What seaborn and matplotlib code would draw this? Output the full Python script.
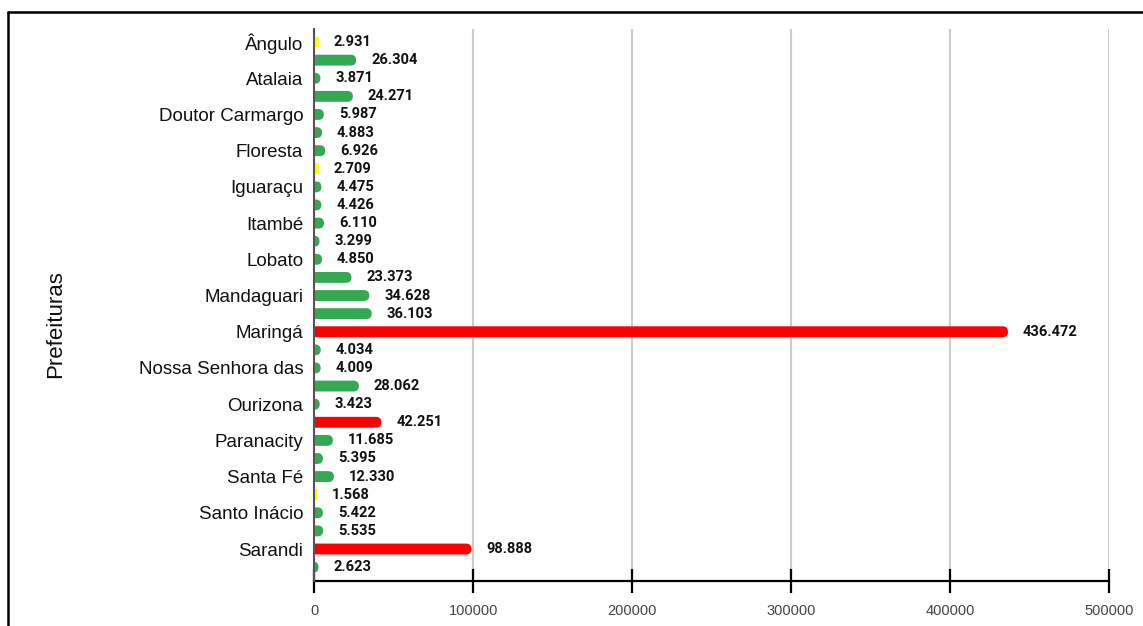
import matplotlib
matplotlib.use("Agg")
import matplotlib.pyplot as plt
import seaborn as sns
import pandas as pd
from matplotlib.patches import FancyBboxPatch
from matplotlib.lines import Line2D

# Municípios (ordem alfabética) e população
municipios = [
    "Ângulo", "Astorga", "Atalaia", "Colorado", "Doutor Carmargo", "Floraí",
    "Floresta", "Flórida", "Iguaraçu", "Itaguajé", "Itambé", "Ivatuba",
    "Lobato", "Mandaguaçu", "Mandaguari", "Marialva", "Maringá",
    "Munhoz de Melo", "Nossa Senhora das Graças", "Nova Esperança",
    "Ourizona", "Paiçandu", "Paranacity", "Presidente Castelo Branco",
    "Santa Fé", "Santa Inês", "Santo Inácio", "São Jorge do Ivaí",
    "Sarandi", "Uniflor",
]
populacao = [
    2931, 26304, 3871, 24271, 5987, 4883, 6926, 2709, 4475, 4426, 6110, 3299,
    4850, 23373, 34628, 36103, 436472, 4034, 4009, 28062, 3423, 42251, 11685,
    5395, 12330, 1568, 5422, 5535, 98888, 2623,
]
faixa = [
    "baixa", "media", "media", "media", "media", "media", "media", "baixa",
    "media", "media", "media", "media", "media", "media", "media", "media",
    "alta", "media", "media", "media", "media", "alta", "media", "media",
    "media", "baixa", "media", "media", "alta", "media",
]
# Rótulos do eixo (um a cada dois municípios)
rotulos_eixo = [
    "Ângulo", "Atalaia", "Doutor Carmargo", "Floresta", "Iguaraçu", "Itambé",
    "Lobato", "Mandaguari", "Maringá", "Nossa Senhora das", "Ourizona",
    "Paranacity", "Santa Fé", "Santo Inácio", "Sarandi",
]
ticks_x = [0, 100000, 200000, 300000, 400000, 500000]

cores = {"baixa": "#ffff00", "media": "#34a853", "alta": "#ff0000"}

df = pd.DataFrame({"municipio": municipios, "populacao": populacao, "faixa": faixa})

sns.set_style("white")
plt.rcParams["font.family"] = ["Liberation Sans", "DejaVu Sans"]

W, H = 1143, 626
fig = plt.figure(figsize=(W / 100, H / 100), dpi=100)
ax = fig.add_axes([314.3 / W, 1 - 580.7 / H, (1109 - 314.3) / W, (580.7 - 29) / H])

bar_h = 0.6
sns.barplot(data=df, x="populacao", y="municipio", hue="faixa", palette=cores,
            dodge=False, legend=False, orient="h", width=bar_h, ax=ax,
            order=municipios, saturation=1)

ax.set_xlim(0, 500000)
ax.set_ylim(len(municipios) - 0.25, -0.72)

# Pixel -> data scale for rounded bar ends
fig.canvas.draw()
px_x = (ax.transData.transform((100000, 0))[0] - ax.transData.transform((0, 0))[0]) / 100000
px_y = abs(ax.transData.transform((0, 1))[1] - ax.transData.transform((0, 0))[1])
raio_px = 5.5
r_x = raio_px / px_x
r_y = raio_px / px_y

for p in list(ax.patches):
    x0, y0 = p.get_x(), p.get_y()
    w, h = p.get_width(), p.get_height()
    cor = p.get_facecolor()
    p.remove()
    if w < 3000 and cor[2] < 0.5 and cor[1] > 0.9:
        # barras amarelas muito finas: retângulo simples
        ax.add_patch(plt.Rectangle((x0, y0), w, h, facecolor=cor, edgecolor="none", zorder=3))
        continue
    rx = min(r_x, (w + r_x) / 2)
    fb = FancyBboxPatch((x0 - r_x, y0), w + r_x, h,
                        boxstyle=f"round,pad=0,rounding_size={rx}",
                        mutation_aspect=r_y / rx, facecolor=cor,
                        edgecolor="none", zorder=3, clip_on=True)
    ax.add_patch(fb)

# Rótulos de valor
for i, v in enumerate(populacao):
    txt = f"{v:,}".replace(",", ".")
    ax.text(v + 15 / px_x, i, txt, va="center", ha="left",
            fontsize=10.5, fontweight="bold", family=["Roboto", "DejaVu Sans"],
            color="#111111", zorder=4)

ax.set_yticks(range(0, len(municipios), 2))
ax.set_yticklabels(rotulos_eixo, fontsize=13.5, color="#111111")
ax.tick_params(axis="y", left=False, length=0, pad=8)

ax.set_xticks(ticks_x)
ax.set_xticklabels([str(t) for t in ticks_x], fontsize=10.5, color="#444444")
ax.tick_params(axis="x", bottom=True, direction="inout", length=17, width=1.6,
               color="black", pad=8)

ax.xaxis.grid(True, color="#cccccc", linewidth=1.5)
ax.set_axisbelow(True)
ax.set_xlabel("")
ax.set_ylabel("Prefeituras", fontsize=16, color="#111111", labelpad=0)
ax.yaxis.set_label_coords((66 - 314.3) / (1109 - 314.3), 0.465)

for s in ["top", "right"]:
    ax.spines[s].set_visible(False)
ax.spines["left"].set_color("#555555")
ax.spines["left"].set_linewidth(1.5)
ax.spines["left"].set_zorder(5)
ax.spines["bottom"].set_color("black")
ax.spines["bottom"].set_linewidth(1.6)

# Moldura superior e esquerda
fig.add_artist(Line2D([8 / W, 1], [1 - 11.5 / H, 1 - 11.5 / H], color="black", linewidth=1.8))
fig.add_artist(Line2D([8 / W, 8 / W], [0, 1 - 11.5 / H], color="black", linewidth=1.8))

fig.savefig("out.png", dpi=100)
